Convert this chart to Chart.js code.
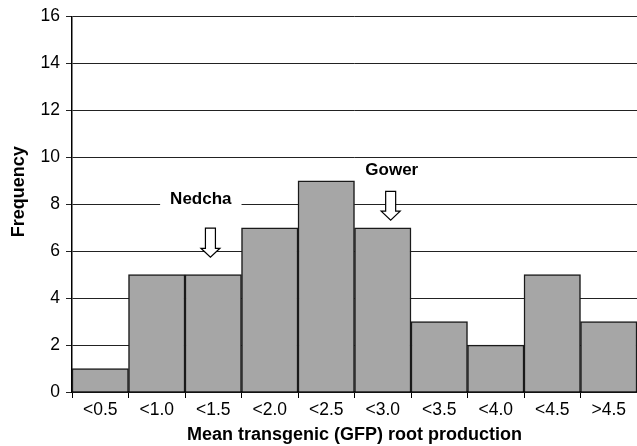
<!DOCTYPE html>
<html>
<head>
<meta charset="utf-8">
<script src="https://cdn.jsdelivr.net/npm/chart.js@4/dist/chart.umd.min.js"></script>
<style>
  html, body { margin: 0; padding: 0; background: #fff; }
  #wrap { width: 637px; height: 446px; }
</style>
</head>
<body>
<div id="wrap"><canvas id="hist"></canvas></div>
<script>
const categories = ["<0.5", "<1.0", "<1.5", "<2.0", "<2.5", "<3.0", "<3.5", "<4.0", "<4.5", ">4.5"];
const frequency = [1, 5, 5, 7, 9, 7, 3, 2, 5, 3];
const yTicks = [0, 2, 4, 6, 8, 10, 12, 14, 16];

// cultivar markers, positions in category units from the left edge and in frequency units
const markers = [
  { label: "Nedcha", labelX: 2.28, labelY: 8.2, arrowX: 2.45, top: 6.98, tip: 5.74, box: true },
  { label: "Gower", labelX: 5.66, labelY: 9.45, arrowX: 5.64, top: 8.55, tip: 7.32, box: false },
];

const font = "'Liberation Sans', Arial, sans-serif";

const markerPlugin = {
  id: "markers",
  afterDatasetsDraw(chart) {
    const ctx = chart.ctx;
    const xs = chart.scales.x, ys = chart.scales.y;
    const step = xs.getPixelForValue(1) - xs.getPixelForValue(0);
    ctx.save();
    for (const m of markers) {
      const lx = xs.left + m.labelX * step;
      const ty = ys.getPixelForValue(m.labelY);
      ctx.font = "bold 17px " + font;
      ctx.textAlign = "center";
      ctx.textBaseline = "middle";
      if (m.box) {
        const w = ctx.measureText(m.label).width + 20;
        ctx.fillStyle = "#fff";
        ctx.fillRect(lx - w / 2, ty - 11, w, 22);
      }
      ctx.fillStyle = "#000";
      ctx.fillText(m.label, lx, ty);

      const cx = xs.left + m.arrowX * step;
      const top = ys.getPixelForValue(m.top);
      const tip = ys.getPixelForValue(m.tip);
      const neck = tip - 9;
      ctx.beginPath();
      ctx.moveTo(cx - 5, top);
      ctx.lineTo(cx + 5, top);
      ctx.lineTo(cx + 5, neck);
      ctx.lineTo(cx + 9.5, neck);
      ctx.lineTo(cx, tip);
      ctx.lineTo(cx - 9.5, neck);
      ctx.lineTo(cx - 5, neck);
      ctx.closePath();
      ctx.fillStyle = "#fff";
      ctx.fill();
      ctx.lineWidth = 1.2;
      ctx.strokeStyle = "#000";
      ctx.stroke();
    }
    ctx.restore();
  },
};

new Chart(document.getElementById("hist").getContext("2d"), {
  type: "bar",
  data: {
    labels: categories,
    datasets: [
      {
        data: frequency,
        backgroundColor: "#a6a6a6",
        borderColor: "#1a1a1a",
        borderWidth: 1.5,
        barPercentage: 1,
        categoryPercentage: 1,
      },
    ],
  },
  options: {
    responsive: true,
    maintainAspectRatio: false,
    animation: false,
    layout: { padding: { top: 15, right: 0, left: 8, bottom: 0 } },
    plugins: { legend: { display: false }, tooltip: { enabled: false } },
    scales: {
      x: {
        grid: { display: true, drawOnChartArea: false, offset: true, tickLength: 6, color: "#000" },
        border: { color: "#000", width: 1.5 },
        ticks: { color: "#000", font: { family: font, size: 17.5 }, padding: 2, maxRotation: 0 },
        title: {
          display: true,
          text: "Mean transgenic (GFP) root production",
          color: "#000",
          font: { family: font, size: 18, weight: "bold" },
          padding: { top: 0, bottom: 0 },
        },
        afterFit: (s) => { s.height = 54; },
      },
      y: {
        min: 0,
        max: 16,
        afterBuildTicks: (s) => { s.ticks = yTicks.map((v) => ({ value: v })); },
        grid: { color: "#222", lineWidth: 1, tickLength: 6 },
        border: { color: "#000", width: 1.5 },
        ticks: { color: "#000", font: { family: font, size: 17.5 }, padding: 6 },
        title: {
          display: true,
          // leading spaces nudge the rotated title up to where the original sits
          text: "     Frequency",
          color: "#000",
          font: { family: font, size: 18, weight: "bold" },
          padding: { top: 0, bottom: 8 },
        },
        afterFit: (s) => { s.width = 64; },
      },
    },
  },
  plugins: [markerPlugin],
});
</script>
</body>
</html>
